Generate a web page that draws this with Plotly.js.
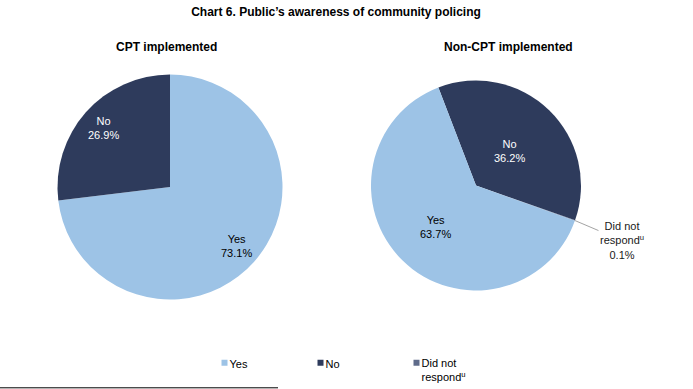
<!DOCTYPE html>
<html>
<head>
<meta charset="utf-8">
<script src="https://cdn.plot.ly/plotly-3.0.1.min.js"></script>
<style>html,body{margin:0;padding:0;background:#fff;}#chart{width:693px;height:389px;}</style>
</head>
<body>
<div id="chart"></div>
<script>
// ---- data ----
var chartTitle = "Chart 6. Public\u2019s awareness of community policing";
var groupTitles = ["CPT implemented", "Non-CPT implemented"];
var cptLabels = ["Yes", "No"];
var cptValues = [73.1, 26.9];
var nonLabels = ["No", "Did not<br>respond<sup>u</sup>", "Yes"];
var nonValues = [36.2, 0.1, 63.7];
var colorMap = {"Yes": "#9dc3e6", "No": "#2e3b5c", "Did not<br>respond<sup>u</sup>": "#5f6b8a"};

var W = 693, H = 389;
var FONT = "Liberation Sans, Arial, sans-serif";
var domL = {x: [57.5 / W, 282.5 / W], y: [89.5 / H, 314.5 / H]};
var domR = {x: [371 / W, 581 / W], y: [98.5 / H, 308.5 / H]};
var rotL = 0, rotR = -21;
// label distance from centre (fraction of radius) per slice; 0 = label drawn outside
var labelRadL = [0.79, 0.79];
var labelRadR = [0.46, 0, 0.55];

function txtColor(l) { return l === "Yes" ? "#000000" : "#ffffff"; }

function makePie(labels, values, dom, rot) {
  return {
    type: "pie", labels: labels, values: values, sort: false,
    direction: "clockwise", rotation: rot, domain: dom,
    marker: {colors: labels.map(function (l) { return colorMap[l]; }), line: {width: 0}},
    textinfo: "none", hoverinfo: "label+value"
  };
}

// geometry of a pie from its domain (same rule Plotly uses)
function geom(dom) {
  var cx = (dom.x[0] + dom.x[1]) / 2 * W, cy = (1 - (dom.y[0] + dom.y[1]) / 2) * H;
  var r = Math.min((dom.x[1] - dom.x[0]) * W, (dom.y[1] - dom.y[0]) * H) / 2;
  return {cx: cx, cy: cy, r: r};
}
function slicePoint(dom, rot, values, idx, frac) {
  var g = geom(dom);
  var tot = values.reduce(function (a, b) { return a + b; }, 0);
  var cum = 0; for (var i = 0; i < idx; i++) cum += values[i];
  var th = (rot + (cum + values[idx] / 2) / tot * 360) * Math.PI / 180;
  return {x: (g.cx + frac * g.r * Math.sin(th)) / W, y: 1 - (g.cy - frac * g.r * Math.cos(th)) / H};
}

var annotations = [
  {text: "<b>" + groupTitles[0] + "</b>", xref: "paper", yref: "paper", x: 166 / W, y: 1 - 47 / H,
   showarrow: false, xanchor: "center", yanchor: "middle", font: {family: FONT, size: 12, color: "#000"}},
  {text: "<b>" + groupTitles[1] + "</b>", xref: "paper", yref: "paper", x: 508 / W, y: 1 - 47 / H,
   showarrow: false, xanchor: "center", yanchor: "middle", font: {family: FONT, size: 12, color: "#000"}}
];

function addLabels(labels, values, dom, rot, rads) {
  labels.forEach(function (l, i) {
    var txt = l + "<br>" + values[i].toFixed(1) + "%";
    if (rads[i] > 0) {
      var p = slicePoint(dom, rot, values, i, rads[i]);
      annotations.push({text: txt, xref: "paper", yref: "paper", x: p.x, y: p.y, showarrow: false,
        xanchor: "center", yanchor: "middle", align: "center",
        font: {family: FONT, size: 11, color: txtColor(l)}});
    } else {
      var e = slicePoint(dom, rot, values, i, 1.0);
      annotations.push({text: txt, xref: "paper", yref: "paper", x: e.x, y: e.y, showarrow: true,
        arrowhead: 0, arrowwidth: 0.8, arrowcolor: "#8c8c8c", ax: 47, ay: 20, align: "center",
        font: {family: FONT, size: 11, color: "#1a1a1a"}});
    }
  });
}
addLabels(cptLabels, cptValues, domL, rotL, labelRadL);
addLabels(nonLabels, nonValues, domR, rotR, labelRadR);

var layout = {
  width: W, height: H, margin: {l: 0, r: 0, t: 0, b: 0, autoexpand: false},
  paper_bgcolor: "#ffffff", font: {family: FONT, size: 11, color: "#000"},
  title: {text: "<b>" + chartTitle + "</b>", font: {family: FONT, size: 12, color: "#000"},
          x: 336 / W, xanchor: "center", y: 1 - 12 / H, yanchor: "middle"},
  showlegend: true,
  legend: {orientation: "h", x: 189.5 / W, xanchor: "left", y: 1 - 349 / H, yanchor: "top",
           font: {family: FONT, size: 11, color: "#000"}, traceorder: "normal", valign: "top",
           entrywidth: 51, entrywidthmode: "pixels", itemwidth: 30, bgcolor: "rgba(0,0,0,0)"},
  annotations: annotations,
  shapes: [
    {type: "line", xref: "paper", yref: "paper", x0: 0, x1: 278 / W, y0: 1.2 / H, y1: 1.2 / H,
     line: {color: "#000", width: 1}}
  ]
};

function restyleLegend() {
  var gd = document.getElementById("chart");
  gd.querySelectorAll(".legend .legendpoints path").forEach(function (p) {
    p.setAttribute("d", "M18,3H12V-3H18Z");
  });
}
Plotly.newPlot("chart", [makePie(cptLabels, cptValues, domL, rotL), makePie(nonLabels, nonValues, domR, rotR)],
  layout, {displayModeBar: false, staticPlot: true}).then(restyleLegend);
</script>
</body>
</html>
